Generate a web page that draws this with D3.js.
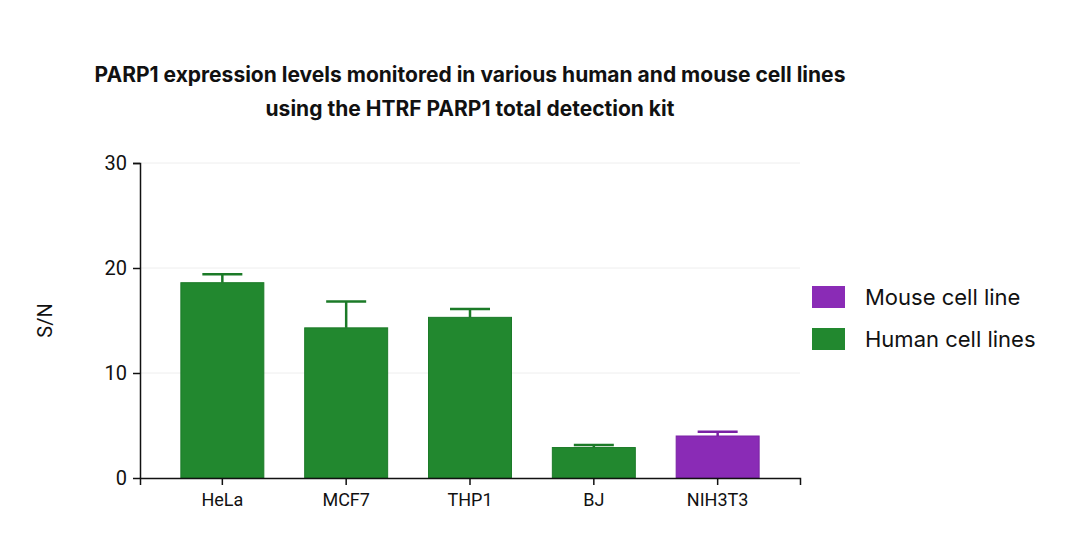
<!DOCTYPE html>
<html><head><meta charset="utf-8">
<script src="https://cdn.jsdelivr.net/npm/d3@7"></script>
<style>body{margin:0;background:#fff}</style>
</head><body>
<svg id="chart" width="1080" height="541"></svg>
<script>
const categories = ["HeLa", "MCF7", "THP1", "BJ", "NIH3T3"],
    values = [18.6, 14.3, 15.3, 2.9, 4.0],
    errors = [0.8, 2.5, 0.8, 0.25, 0.4],
    groups = ["human", "human", "human", "human", "mouse"],
    yTicks = [0, 10, 20, 30],
    legendItems = [{"key": "mouse", "label": "Mouse cell line"},
                   {"key": "human", "label": "Human cell lines"}];

const colors = {"human": "#22882f", "mouse": "#8a2bb6"},
    strokes = {"human": "#1b7a27", "mouse": "#7a22a5"};

const svg = d3.select("#chart"),
    margin = {top: 163, left: 140, bottom: 63, right: 280};
const w = 1080 - margin.left - margin.right,
    h = 541 - margin.top - margin.bottom;

// title
svg.append("text").attr("x", 470).attr("y", 82).attr("text-anchor", "middle")
    .style("font", "700 21px Inter, 'DejaVu Sans', sans-serif").style("fill", "#111")
    .text("PARP1 expression levels monitored in various human and mouse cell lines");
svg.append("text").attr("x", 470).attr("y", 116).attr("text-anchor", "middle")
    .style("font", "700 21px Inter, 'DejaVu Sans', sans-serif").style("fill", "#111")
    .text("using the HTRF PARP1 total detection kit");

const g = svg.append("g").attr("transform", "translate(" + margin.left + "," + margin.top + ")");

const x = d3.scaleBand().domain(categories).range([0, w]).paddingInner(0.33).paddingOuter(0.33);
const y = d3.scaleLinear().domain([0, 30]).range([h, 0]);

// gridlines
g.selectAll(".grid").data(yTicks.slice(1)).enter().append("line")
    .attr("x1", 0).attr("x2", w)
    .attr("y1", function(d) { return y(d); }).attr("y2", function(d) { return y(d); })
    .style("stroke", "#eeeeee");

// error bars
const eb = g.selectAll(".err").data(categories).enter().append("g")
    .style("stroke", function(d, i) { return strokes[groups[i]]; })
    .style("stroke-width", 2.5);
eb.append("line")
    .attr("x1", function(d) { return x(d) + x.bandwidth() / 2; })
    .attr("x2", function(d) { return x(d) + x.bandwidth() / 2; })
    .attr("y1", function(d, i) { return y(values[i]); })
    .attr("y2", function(d, i) { return y(values[i] + errors[i]); });
eb.append("line")
    .attr("x1", function(d) { return x(d) + x.bandwidth() / 2 - 20; })
    .attr("x2", function(d) { return x(d) + x.bandwidth() / 2 + 20; })
    .attr("y1", function(d, i) { return y(values[i] + errors[i]); })
    .attr("y2", function(d, i) { return y(values[i] + errors[i]); });

// bars
g.selectAll(".bar").data(categories).enter().append("rect")
    .attr("x", function(d) { return x(d); })
    .attr("width", x.bandwidth())
    .attr("y", function(d, i) { return y(values[i]); })
    .attr("height", function(d, i) { return h - y(values[i]); })
    .style("fill", function(d, i) { return colors[groups[i]]; })
    .style("stroke", function(d, i) { return strokes[groups[i]]; });

// axes
const xAxis = g.append("g").attr("transform", "translate(0," + h + ")")
    .call(d3.axisBottom(x).tickSize(7).tickPadding(8));
const yAxis = g.append("g").call(d3.axisLeft(y).tickValues(yTicks).tickSize(7).tickPadding(6));
[xAxis, yAxis].forEach(function(a) {
  a.selectAll("path, line").style("stroke", "#111").style("stroke-width", 1.5);
  a.selectAll("text").style("font", "18px Roboto, 'DejaVu Sans', sans-serif").style("fill", "#111");
});
yAxis.select(".domain").attr("d", "M-7,0.5H0.5V" + (h + 0.5));
yAxis.selectAll("text").style("font-size", "20px");

svg.append("text").attr("transform", "translate(52," + (margin.top + h / 2) + ") rotate(-90)")
    .attr("text-anchor", "middle")
    .style("font", "20px Roboto, 'DejaVu Sans', sans-serif").style("fill", "#111").text("S/N");

// legend
const lg = svg.append("g").attr("transform", "translate(812,286)");
const li = lg.selectAll("g").data(legendItems).enter().append("g")
    .attr("transform", function(d, i) { return "translate(0," + i * 42 + ")"; });
li.append("rect").attr("width", 33).attr("height", 22)
    .style("fill", function(d) { return colors[d.key]; });
li.append("text").attr("x", 53).attr("y", 19)
    .style("font", "22px Inter, 'DejaVu Sans', sans-serif").style("fill", "#111")
    .text(function(d) { return d.label; });
</script>
</body></html>
